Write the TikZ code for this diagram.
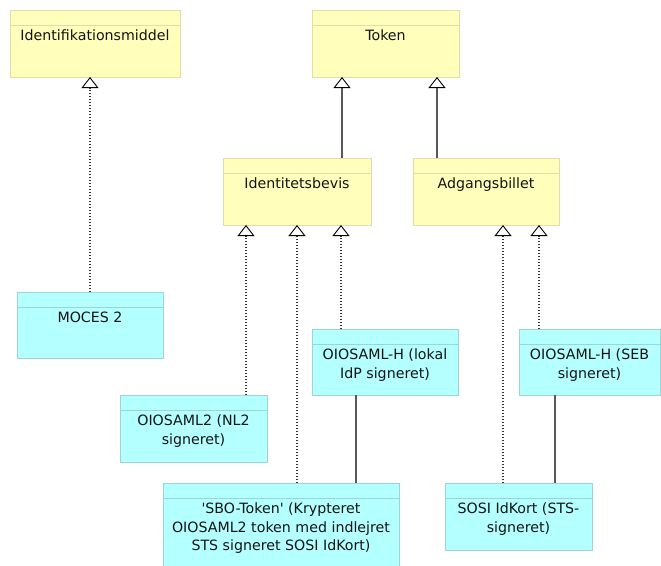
\documentclass[tikz,border=0pt]{standalone}
\usepackage{fontspec}
\setmainfont{DejaVu Sans}[Ligatures=TeXOff]
\usetikzlibrary{arrows.meta}
\definecolor{clsfill}{RGB}{255,255,187}
\definecolor{clsline}{RGB}{222,222,168}
\definecolor{objfill}{RGB}{180,255,255}
\definecolor{objline}{RGB}{158,212,212}
\definecolor{inkgray}{RGB}{88,88,88}
\definecolor{txtcol}{RGB}{20,20,20}

\begin{document}
\begin{tikzpicture}[x=1pt,y=-1pt,
  box/.style={line width=0.9pt, inner sep=0pt, outer sep=0pt, anchor=north west},
  clsbox/.style={box, draw=clsline, fill=clsfill},
  objbox/.style={box, draw=objline, fill=objfill},
  lbl/.style={anchor=north, inner sep=0pt, align=center, text=txtcol,
    font=\fontsize{14.2}{18.4}\selectfont},
  gen/.style={-{Triangle[open, length=11pt, width=17pt, line width=0.9pt, fill=white, color=black]}},
  realize/.style={gen, draw=inkgray!60!black, line width=1.2pt, dash pattern=on 1.2pt off 1.8pt},
  inherit/.style={gen, draw=inkgray, line width=1.5pt},
  assoc/.style={draw=inkgray, line width=1.5pt}
]
\useasboundingbox (0,0) rectangle (661,565);
\clip (0,0) rectangle (661,565);

% box: name, style, x, y, width, height, text
\newcommand\umlbox[7]{%
  \node[#2, minimum width=#5pt, minimum height=#6pt] (#1) at (#3,#4) {};
  \draw[#2, fill=none] ([yshift=-15pt]#1.north west) -- ([yshift=-15pt]#1.north east);
  \node[lbl] at ([yshift=-20pt]#1.north) {#7};
}

% classes
\umlbox{idm}{clsbox}{10}{10}{170}{67}{Identifikationsmiddel}
\umlbox{tok}{clsbox}{312}{10}{147}{67}{Token}
\umlbox{ib}{clsbox}{223}{158}{148}{67}{Identitetsbevis}
\umlbox{ab}{clsbox}{413}{158}{146}{67}{Adgangsbillet}

% instances
\umlbox{moces}{objbox}{17}{292}{146}{66}{MOCES 2}
\umlbox{nl2}{objbox}{120}{395}{147}{67}{OIOSAML2 (NL2\\signeret)}
\umlbox{lokal}{objbox}{312}{329}{146}{66}{OIOSAML-H (lokal\\IdP signeret)}
\umlbox{seb}{objbox}{519}{329}{141}{66}{OIOSAML-H (SEB\\signeret)}
\umlbox{sbo}{objbox}{163}{483}{236}{86}{'SBO-Token' (Krypteret\\OIOSAML2 token med indlejret\\STS signeret SOSI IdKort)}
\umlbox{sosi}{objbox}{445}{483}{147}{67}{SOSI IdKort (STS-\\signeret)}

% generalisations
\draw[inherit] ([xshift=45pt]ib.north) -- ([xshift=45pt]ib.north |- tok.south);
\draw[inherit] ([xshift=-49pt]ab.north) -- ([xshift=-49pt]ab.north |- tok.south);

% realisations
\draw[realize] (moces.north) -- (moces.north |- idm.south);
\draw[realize] ([xshift=52.5pt]nl2.north) -- ([xshift=52.5pt]nl2.north |- ib.south);
\draw[realize] ([xshift=16pt]sbo.north) -- ([xshift=16pt]sbo.north |- ib.south);
\draw[realize] ([xshift=-44pt]lokal.north) -- ([xshift=-44pt]lokal.north |- ib.south);
\draw[realize] ([xshift=-15.5pt]sosi.north) -- ([xshift=-15.5pt]sosi.north |- ab.south);
\draw[realize] ([xshift=-50.5pt]seb.north) -- ([xshift=-50.5pt]seb.north |- ab.south);

% associations
\draw[assoc] ([xshift=-29pt]lokal.south) -- ([xshift=-29pt]lokal.south |- sbo.north);
\draw[assoc] ([xshift=-34.5pt]seb.south) -- ([xshift=-34.5pt]seb.south |- sosi.north);
\end{tikzpicture}
\end{document}
